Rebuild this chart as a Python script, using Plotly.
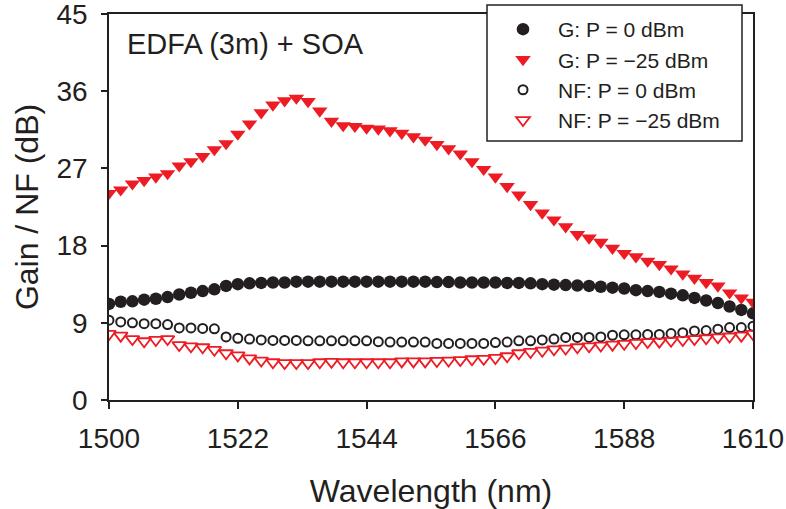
import plotly.graph_objects as go

wavelength = [1500, 1502, 1504, 1506, 1508, 1510, 1512, 1514, 1516, 1518,
              1520, 1522, 1524, 1526, 1528, 1530, 1532, 1534, 1536, 1538,
              1540, 1542, 1544, 1546, 1548, 1550, 1552, 1554, 1556, 1558,
              1560, 1562, 1564, 1566, 1568, 1570, 1572, 1574, 1576, 1578,
              1580, 1582, 1584, 1586, 1588, 1590, 1592, 1594, 1596, 1598,
              1600, 1602, 1604, 1606, 1608, 1610]

gain_0dbm = [11.2, 11.45, 11.5, 11.7, 11.8, 12.0, 12.3, 12.5, 12.7, 12.9,
             13.3, 13.5, 13.6, 13.65, 13.7, 13.7, 13.8, 13.8, 13.8, 13.8,
             13.8, 13.8, 13.8, 13.8, 13.8, 13.8, 13.8, 13.8, 13.75, 13.75,
             13.7, 13.7, 13.7, 13.7, 13.65, 13.65, 13.6, 13.5, 13.45, 13.4,
             13.35, 13.3, 13.2, 13.1, 13.0, 12.8, 12.7, 12.6, 12.4, 12.2,
             11.9, 11.6, 11.3, 10.9, 10.5, 10.1]

gain_m25dbm = [24.1, 24.5, 25.2, 25.6, 26.0, 26.4, 27.3, 27.8, 28.4, 29.2,
               29.9, 31.0, 32.2, 33.5, 34.4, 34.9, 35.2, 34.8, 33.7, 32.5,
               32.0, 31.9, 31.7, 31.6, 31.4, 31.1, 30.7, 30.3, 29.8, 29.3,
               28.7, 27.8, 26.9, 26.0, 24.9, 23.9, 22.8, 21.8, 21.0, 20.2,
               19.3, 18.9, 18.4, 17.7, 17.1, 16.7, 16.2, 15.8, 15.3, 14.7,
               14.2, 13.7, 13.3, 12.5, 11.9, 11.4]

nf_0dbm = [9.3, 9.1, 9.0, 8.9, 8.9, 8.8, 8.4, 8.4, 8.35, 8.3,
           7.35, 7.2, 7.1, 7.0, 6.95, 6.95, 6.95, 6.9, 6.9, 6.9,
           6.9, 6.9, 6.9, 6.8, 6.75, 6.75, 6.75, 6.75, 6.6, 6.6,
           6.6, 6.6, 6.6, 6.7, 6.75, 6.9, 6.9, 7.0, 7.1, 7.3,
           7.3, 7.3, 7.35, 7.55, 7.6, 7.6, 7.65, 7.65, 7.75, 7.85,
           8.05, 8.1, 8.25, 8.45, 8.45, 8.6]

nf_m25dbm = [7.7, 7.5, 7.1, 6.85, 7.0, 7.1, 6.4, 6.25, 6.15, 5.85,
             5.45, 5.2, 4.85, 4.6, 4.4, 4.3, 4.3, 4.3, 4.4, 4.45,
             4.4, 4.4, 4.4, 4.4, 4.4, 4.5, 4.5, 4.5, 4.55, 4.6,
             4.65, 4.75, 4.8, 4.9, 5.1, 5.45, 5.6, 5.75, 5.9, 6.0,
             6.15, 6.25, 6.35, 6.45, 6.55, 6.65, 6.75, 6.8, 6.9, 7.0,
             7.1, 7.2, 7.3, 7.4, 7.5, 7.7]

series_names = ["G: P = 0 dBm", "G: P = \u221225 dBm",
                "NF: P = 0 dBm", "NF: P = \u221225 dBm"]
x_ticks = [1500, 1522, 1544, 1566, 1588, 1610]
y_ticks = [0, 9, 18, 27, 36, 45]

BLACK = "#231f20"
RED = "#ed1c24"
FONT = "Liberation Sans, Arial, Helvetica, sans-serif"

fig = go.Figure()
fig.add_trace(go.Scatter(x=wavelength, y=gain_0dbm, mode="markers", name=series_names[0],
                         marker=dict(symbol="circle", size=12.5, color=BLACK, line=dict(width=0))))
fig.add_trace(go.Scatter(x=wavelength, y=gain_m25dbm, mode="markers", name=series_names[1],
                         marker=dict(symbol="triangle-down", size=13.5, color=RED, line=dict(width=0))))
fig.add_trace(go.Scatter(x=wavelength, y=nf_0dbm, mode="markers", name=series_names[2],
                         marker=dict(symbol="circle-open", size=9, color=BLACK, line=dict(width=2, color=BLACK))))
fig.add_trace(go.Scatter(x=wavelength, y=nf_m25dbm, mode="markers", name=series_names[3],
                         marker=dict(symbol="triangle-down-open", size=12, color=RED, line=dict(width=1.8, color=RED))))

# plot area in pixels: left 109, right 753, top 14, bottom 400
L, R, T, B = 109, 753, 14, 400
W, H = 786, 509
pw, ph = R - L, B - T

def px_x(x):
    return (x - L) / pw

def px_y(y):
    return (B - y) / ph

fig.update_layout(
    width=W, height=H,
    margin=dict(l=L, r=W - R, t=T, b=H - B, pad=0, autoexpand=False),
    paper_bgcolor="white", plot_bgcolor="white",
    font=dict(family=FONT, color=BLACK),
    showlegend=True,
    legend=dict(
        x=px_x(488), y=px_y(9), xanchor="left", yanchor="top",
        bgcolor="rgba(0,0,0,0)", borderwidth=0,
        font=dict(family=FONT, size=21, color=BLACK),
        tracegroupgap=0, itemsizing="trace", itemwidth=60,
    ),
    shapes=[dict(type="rect", xref="paper", yref="paper",
                 x0=px_x(487), x1=px_x(742), y0=px_y(141), y1=px_y(5),
                 line=dict(color=BLACK, width=1.5), fillcolor="white", layer="above")],
    annotations=[dict(text="EDFA (3m) + SOA", xref="paper", yref="paper",
                      x=px_x(125), y=px_y(44), xanchor="left", yanchor="middle",
                      showarrow=False, font=dict(family=FONT, size=29, color=BLACK))],
)

fig.update_xaxes(
    range=[1500, 1610], tickvals=x_ticks, ticktext=[str(v) for v in x_ticks],
    showline=True, linecolor=BLACK, linewidth=1.5, mirror=True,
    ticks="outside", ticklen=7, tickwidth=1.5, tickcolor=BLACK,
    showgrid=False, zeroline=False, automargin=False,
    ticklabeloverflow="allow", ticklabelstandoff=6,
    tickfont=dict(family=FONT, size=28, color=BLACK),
    title=dict(text="Wavelength (nm)", font=dict(family=FONT, size=32, color=BLACK), standoff=32),
)
fig.update_yaxes(
    range=[0, 45], tickvals=y_ticks, ticktext=[str(v) for v in y_ticks],
    showline=True, linecolor=BLACK, linewidth=1.5, mirror=True,
    ticks="outside", ticklen=6, tickwidth=1.5, tickcolor=BLACK,
    showgrid=False, zeroline=False, automargin=False,
    ticklabeloverflow="allow", ticklabelstandoff=8,
    tickfont=dict(family=FONT, size=28, color=BLACK),
    title=dict(text="Gain / NF (dB)", font=dict(family=FONT, size=32, color=BLACK), standoff=8),
)

fig.write_html("out.html")
